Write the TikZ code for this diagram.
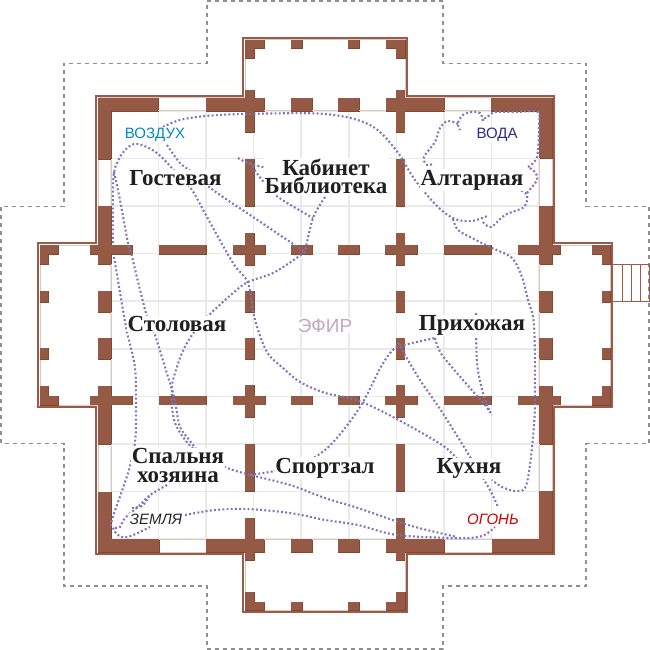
\documentclass[tikz,border=0pt]{standalone}
\usepackage{fontspec}
\setmainfont{Liberation Serif}
\newfontfamily\lsans{Liberation Sans}
\definecolor{wallc}{HTML}{955A45}
\definecolor{walle}{HTML}{84482F}
\definecolor{beige}{HTML}{DCC8BC}
\definecolor{outl}{HTML}{9A5B48}
\definecolor{gridc}{HTML}{E9E9E9}
\definecolor{dashc}{HTML}{8F8F8F}
\definecolor{dotc}{HTML}{7C75BC}
\definecolor{efirc}{HTML}{C4A8BE}
\definecolor{airc}{HTML}{0089CF}
\definecolor{watc}{HTML}{2E2A8C}
\definecolor{firc}{HTML}{CC0000}
\newcommand{\wrect}[4]{\path[\wst] (#1,#2) rectangle (#3,#4);}
\tikzset{
  walledge/.style={draw=walle,line width=0.9pt},
  wallfill/.style={fill=wallc},
  gridline/.style={draw=gridc,line width=1.5pt},
  flow/.style={draw=dotc,line width=2.1pt,line cap=butt,dash pattern=on 1.9pt off 2.3pt},
  room/.style={font=\bfseries\fontsize{23}{18.5}\selectfont,fill=white,inner sep=0.5pt,align=center,text=black!88},
  elem/.style={font=\lsans\fontsize{15}{15}\selectfont,fill=white,inner sep=1pt},
  elemit/.style={font=\lsans\itshape\fontsize{15}{15}\selectfont,fill=white,inner sep=1pt},
}
\begin{document}
\begin{tikzpicture}[x=1pt,y=-1pt]
\useasboundingbox (0,0) rectangle (650,650);
% dashed site outline
\draw[dashc,line width=1.4pt,dash pattern=on 4pt off 4pt]
 (207,1)--(443,1)--(443,63.5)--(586,63.5)--(586,206.5)--(649,206.5)--(649,443.5)--(586,443.5)--(586,586)--(443,586)--(443,649)--(207,649)--(207,586)--(64,586)--(64,443.5)--(1,443.5)--(1,206.5)--(64,206.5)--(64,63.5)--(207,63.5)--cycle;
% grid
\foreach \k in {0,...,9}{
  \pgfmathsetmacro{\g}{111+47.55*\k}
  \draw[gridline] (\g,111)--(\g,539);
  \draw[gridline] (111,\g)--(539,\g);
}
% stairs
\draw[outl,line width=1pt] (612,264.5) rectangle (649.5,301);
\foreach \s in {622,631,640}{\draw[outl,line width=1pt] (\s,264.5)--(\s,301);}
% outline
\draw[beige,line width=1pt] (245,40)--(405,40)--(405,98)--(552,98)--(552,245)--(610,245)--(610,405)--(552,405)--(552,552)--(405,552)--(405,610)--(245,610)--(245,552)--(98,552)--(98,405)--(40,405)--(40,245)--(98,245)--(98,98)--(245,98)--cycle;
\draw[outl,line width=1.1pt] (243,38)--(407,38)--(407,96)--(554,96)--(554,243)--(612,243)--(612,407)--(554,407)--(554,554)--(407,554)--(407,612)--(243,612)--(243,554)--(96,554)--(96,407)--(38,407)--(38,243)--(96,243)--(96,96)--(243,96)--cycle;
% walls, fourfold: edges first, then fills so that joins have no seams
\foreach \wst in {walledge,wallfill}{
\foreach \a in {0,90,180,270}{
\begin{scope}[rotate around={\a:(325,325)}]
  \foreach \p/\q in {158/206,264/291,312/338,359/386,444/491}{
    \draw[beige,line width=1pt] (\p,111)--(\q,111);
  }
  \foreach \p/\q in {98/158,206/264,291/312,338/359,386/444,491/552}{
    \wrect{\p}{98}{\q}{111}
  }
  \foreach \p/\q in {90/132,159/206,233/265,291/312,338/359,385/417,444/491,518/560}{
    \wrect{\p}{245.3}{\q}{254}
  }
  \wrect{245}{40}{264}{48}
  \wrect{245}{40}{254}{58}
  \wrect{291}{40}{302}{48}
  \wrect{348}{40}{359}{48}
  \wrect{386}{40}{405}{48}
  \wrect{396}{40}{405}{58}
\end{scope}
}}
% flows
\draw[flow] plot[smooth,tension=0.55] coordinates {(163,127)(180,120)(206,116)(245,114)(325,114)(370,125)(396,150)(415,180)(438,207)(455,219)(472,221)(487,216)};
\draw[flow] plot[smooth,tension=0.55] coordinates {(483,222)(491,227)(505,215)(524,207)(527,195)(520,190)};
\draw[flow] plot[smooth,tension=0.5] coordinates {(527,193)(537,180)(535,172)(528,167)};
\draw[flow] plot[smooth,tension=0.5] coordinates {(528,167)(537,157)(539,125)(538,112)(515,112)(495,112)(490,115)(482,120)};
\draw[flow] plot[smooth,tension=0.6] coordinates {(483,121)(480,113)(472,112)(463,115)(458,123)(460,130)};
\draw[flow] plot[smooth,tension=0.6] coordinates {(458,124)(448,121)(440,128)(435,142)(424,157)(427,165)(432,164)};
\draw[flow] plot[smooth,tension=0.55] coordinates {(453,219)(458,230)(472,238)(492,248)(512,258)(522,277)(528,300)(534,325)(535,392)(534,425)(530,465)(525,488)(515,491)(502,487)(492,480)};
% air arc, long diagonal to Kukhnya
\draw[flow] plot[smooth,tension=0.55] coordinates {(113,243)(113,190)(115,168)(125,150)(137,144)(157,153)(180,177)(192,190)(207,217)(233,263)(248,283)(255,320)(267,352)(283,368)(300,382)(325,393)(345,397)(362,402)(395,418)(442,445)(458,460)};
\draw[flow] plot[smooth,tension=0.55] coordinates {(167,145)(180,163)(192,172)(213,190)(253,217)(305,252)};
\draw[flow] plot[smooth,tension=0.5] coordinates {(114,172)(120,200)(128,243)(132,257)(147,317)(155,335)(168,377)(173,393)(176,407)(180,427)(190,441)(197,450)};
\draw[flow] plot[smooth,tension=0.55] coordinates {(114,257)(123,310)(127,332)(135,368)(136,410)(135,442)(128,473)(112,520)(113,528)(118,535)(128,537)(150,527)};
% Kabinet
\draw[flow] (238,158)..controls (245,163) and (260,167)..(278,170);
\draw[flow] plot[smooth,tension=0.5] coordinates {(250,163)(262,180)(278,197)(313,218)};
\draw[flow] plot[smooth,tension=0.5] coordinates {(325,197)(313,218)(305,252)};
% Stolovaya diagonal
\draw[flow] plot[smooth,tension=0.55] coordinates {(305,252)(275,272)(248,282)(233,293)(207,317)(192,335)(182,353)(173,380)(172,393)(172,407)(175,423)(183,437)(195,450)(223,466)(243,473)(290,485)(325,498)(358,508)(408,525)(457,537)};
\draw[flow] plot[smooth,tension=0.55] coordinates {(185,515)(215,510)(247,509)(290,513)(325,520)(358,525)(397,535)(458,538)(482,536)(495,527)};
% Sportzal to Prikhozhaya
\draw[flow] plot[smooth,tension=0.55] coordinates {(250,475)(275,471)(300,465)(325,450)(345,428)(363,402)(382,365)(395,348)(408,344)(435,338)};
\draw[flow] plot[smooth,tension=0.5] coordinates {(435,338)(442,355)(470,388)(485,405)(492,415)};
\draw[flow] plot[smooth,tension=0.5] coordinates {(476,313)(477,363)(483,393)(490,412)};
\draw[flow] plot[smooth,tension=0.5] coordinates {(398,343)(420,380)(442,412)(472,460)(490,490)(498,507)};
% Zemlya
\draw[flow] plot[smooth,tension=0.5] coordinates {(167,485)(150,495)(140,505)(125,518)(120,527)(113,528)};
\draw[flow] plot[smooth,tension=0.5] coordinates {(132,508)(142,506)(149,497)};
% rooms
\node[room] (gost) at (175.5,178) {Гостевая};
\node[room] (kab) at (326,176.5) {Кабинет\\Библиотека};
\node[room] (alt) at (472,180) {Алтарная};
\node[room] (stol) at (177,324) {Столовая};
\node[room] (prih) at (472,325.5) {Прихожая};
\node[room] (spal) at (178,465.5) {Спальня\\хозяина};
\node[room] (sport) at (325,468) {Спортзал};
\node[room] (kuh) at (469,468.5) {Кухня};
\node[font=\lsans\fontsize{19}{19}\selectfont,text=efirc,fill=white,inner sep=1pt] (ef) at (325,325.5) {ЭФИР};
\node[elem,text=airc] (air) at (155,135) {ВОЗДУХ};
\node[elem,text=watc] (wat) at (497,135) {ВОДА};
\node[elemit,text=black!85] (ear) at (156,519) {ЗЕМЛЯ};
\node[elemit,text=firc] (fir) at (493,519) {ОГОНЬ};
\end{tikzpicture}
\end{document}
